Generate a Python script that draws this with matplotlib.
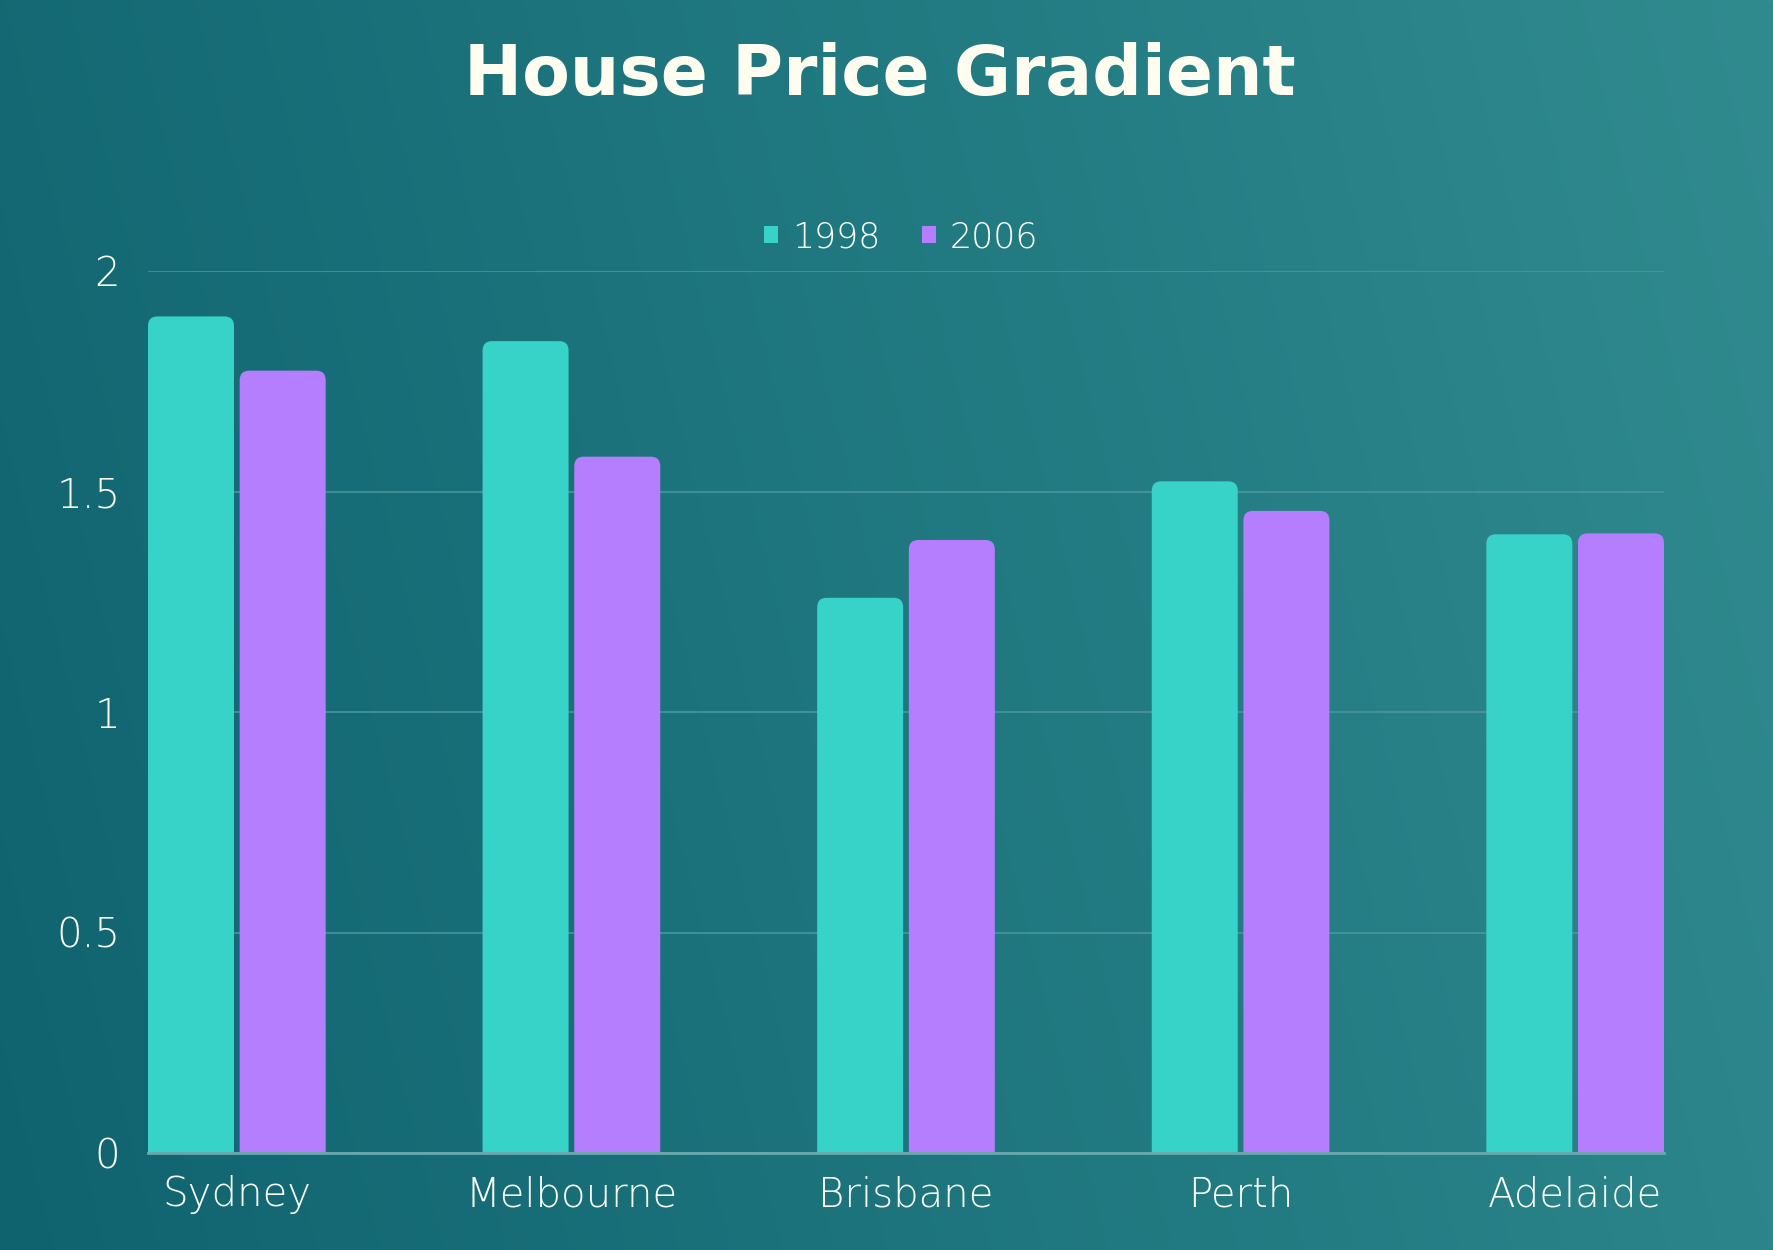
import numpy as np
import matplotlib
matplotlib.use("Agg")
import matplotlib.pyplot as plt
from matplotlib.patches import FancyBboxPatch, Patch

categories = ["Sydney", "Melbourne", "Brisbane", "Perth", "Adelaide"]
series_names = ["1998", "2006"]
values_1998 = [1.897, 1.841, 1.259, 1.523, 1.403]
values_2006 = [1.774, 1.579, 1.390, 1.456, 1.405]
yticks = [0, 0.5, 1, 1.5, 2]
ytick_labels = ["0", "0.5", "1", "1.5", "2"]

C1 = "#38d3c8"
C2 = "#b57eff"
TXT = "#fbfff6"

FONT = "DejaVu Sans"
TFONT = "DejaVu Sans"

W, H = 1773, 1250
fig = plt.figure(figsize=(W / 100, H / 100), dpi=100)

bg = fig.add_axes([0, 0, 1, 1], zorder=-10)
xs = np.linspace(0, 1, 400)
ys = np.linspace(0, 1, 300)
X, Y = np.meshgrid(xs, ys)
t = np.clip(0.85 * X + 0.15 * (1 - Y), 0, 1)
c0 = np.array([0x0f, 0x63, 0x6f]) / 255
c1 = np.array([0x30, 0x8b, 0x8f]) / 255
img = c0[None, None, :] * (1 - t[..., None]) + c1[None, None, :] * t[..., None]
bg.imshow(img, aspect="auto", extent=[0, 1, 0, 1], origin="upper")
bg.axis("off")

ax = fig.add_axes([148 / W, 97 / H, 1516 / W, 882 / H])
ax.set_facecolor("none")

x = np.arange(len(categories))
bw = 0.257
off = bw / 2 + 0.0085
b1 = ax.bar(x - off, values_1998, bw, color=C1, label=series_names[0], zorder=3)
b2 = ax.bar(x + off, values_2006, bw, color=C2, label=series_names[1], zorder=3)

ax.set_xlim(-off - bw / 2, len(categories) - 1 + off + bw / 2)
ax.set_ylim(0, 2)

fig.canvas.draw()
bbox = ax.get_window_extent()
xr = ax.get_xlim()[1] - ax.get_xlim()[0]
yr = ax.get_ylim()[1] - ax.get_ylim()[0]
aspect = (yr / bbox.height) / (xr / bbox.width)
rad = 0.028
for bars in (b1, b2):
    for p in bars:
        p.set_visible(False)
        x0, w, h = p.get_x(), p.get_width(), p.get_height()
        fb = FancyBboxPatch((x0, -0.1), w, h + 0.1,
                            boxstyle=f"round,pad=0,rounding_size={rad}",
                            mutation_aspect=aspect,
                            facecolor=p.get_facecolor(), edgecolor="none",
                            zorder=3, clip_on=True)
        ax.add_patch(fb)

ax.set_yticks(yticks)
ax.set_yticklabels(ytick_labels)
ax.set_xticks(x)
ax.set_xticklabels(categories)
ax.tick_params(axis="both", length=0, colors=TXT, labelsize=29)
ax.tick_params(axis="y", pad=20)
ax.tick_params(axis="x", pad=16)
for lab in ax.get_xticklabels() + ax.get_yticklabels():
    lab.set_fontfamily(FONT)
    lab.set_fontweight("light")
    lab.set_color(TXT)

ax.yaxis.grid(True, color="#4f9ca0", linewidth=1.5, alpha=0.7, zorder=0)
ax.set_axisbelow(True)
for s in ["top", "right", "left"]:
    ax.spines[s].set_visible(False)
ax.spines["bottom"].set_color("#6aa9ab")
ax.spines["bottom"].set_linewidth(2)
ax.spines["bottom"].set_zorder(4)

handles = [Patch(facecolor=C1), Patch(facecolor=C2)]
leg = fig.legend(handles, series_names, loc="center", bbox_to_anchor=(901 / W, 1 - 237 / H),
                 ncol=2, frameon=False, handlelength=0.4, handleheight=0.4,
                 handletextpad=0.4, columnspacing=1.2,
                 prop={"family": FONT, "size": 25, "weight": "light"})
for t_ in leg.get_texts():
    t_.set_color(TXT)

fig.text(880 / W, 1 - 76 / H, "House Price Gradient", ha="center", va="center",
         fontsize=50, fontweight="bold", color="#fffdf0", fontfamily=TFONT)

fig.savefig("out.png", dpi=100)
